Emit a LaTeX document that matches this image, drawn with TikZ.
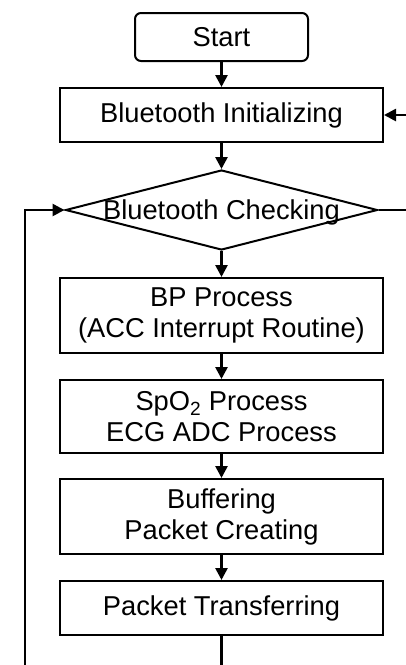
\documentclass[tikz,border=0pt]{standalone}
\usepackage{fontspec}
\setmainfont{Liberation Sans}
\usetikzlibrary{shapes.geometric,arrows.meta}
\begin{document}
\begin{tikzpicture}[x=1pt,y=-1pt,
  txt/.style={font=\fontsize{27.3}{31}\selectfont},
  box/.style={draw, line width=2pt, minimum width=323pt, inner sep=0pt, align=center, txt},
  conn/.style={line width=2.6pt},
  arr/.style={conn, -{Triangle[length=12pt,width=12pt]}}]
\useasboundingbox (0,0) rectangle (406,665);
\node[box, rounded corners=6pt, minimum width=173pt, minimum height=48pt] (start) at (221.5,37) {Start};
\node[box, minimum height=54pt] (init) at (221.5,115) {Bluetooth Initializing};
\node[draw, line width=2pt, shape=diamond, minimum width=312pt, minimum height=80pt, inner sep=0pt] (d) at (221.5,210) {};
\node[txt, inner sep=0pt] (dtext) at (221.5,212) {Bluetooth Checking};
\node[box, minimum height=75pt] (bp) at (221.5,315.5) {BP Process\\(ACC Interrupt Routine)};
\node[box, minimum height=73pt] (spo) at (221.5,416.5) {SpO\textsubscript{2} Process\\ECG ADC Process};
\node[box, minimum height=75pt] (buf) at (221.5,516.5) {Buffering\\Packet Creating};
\node[box, minimum height=54pt] (pkt) at (221.5,608) {Packet Transferring};
\coordinate (rin) at (406,115);
\coordinate (rout) at (406,210);
\coordinate (lb) at (25,665);
\coordinate (bot) at (221.5,665);
\draw[arr] (start) -- (init);
\draw[arr] (rin) -- (init.east);
\draw[arr] (init) -- (d.north);
\draw[arr] (lb) |- (d.west);
\draw[conn] (d.east) -- (rout);
\draw[arr] (d.south) -- (bp);
\draw[arr] (bp) -- (spo);
\draw[arr] (spo) -- (buf);
\draw[arr] (buf) -- (pkt);
\draw[conn] (pkt) -- (bot);
\end{tikzpicture}
\end{document}
